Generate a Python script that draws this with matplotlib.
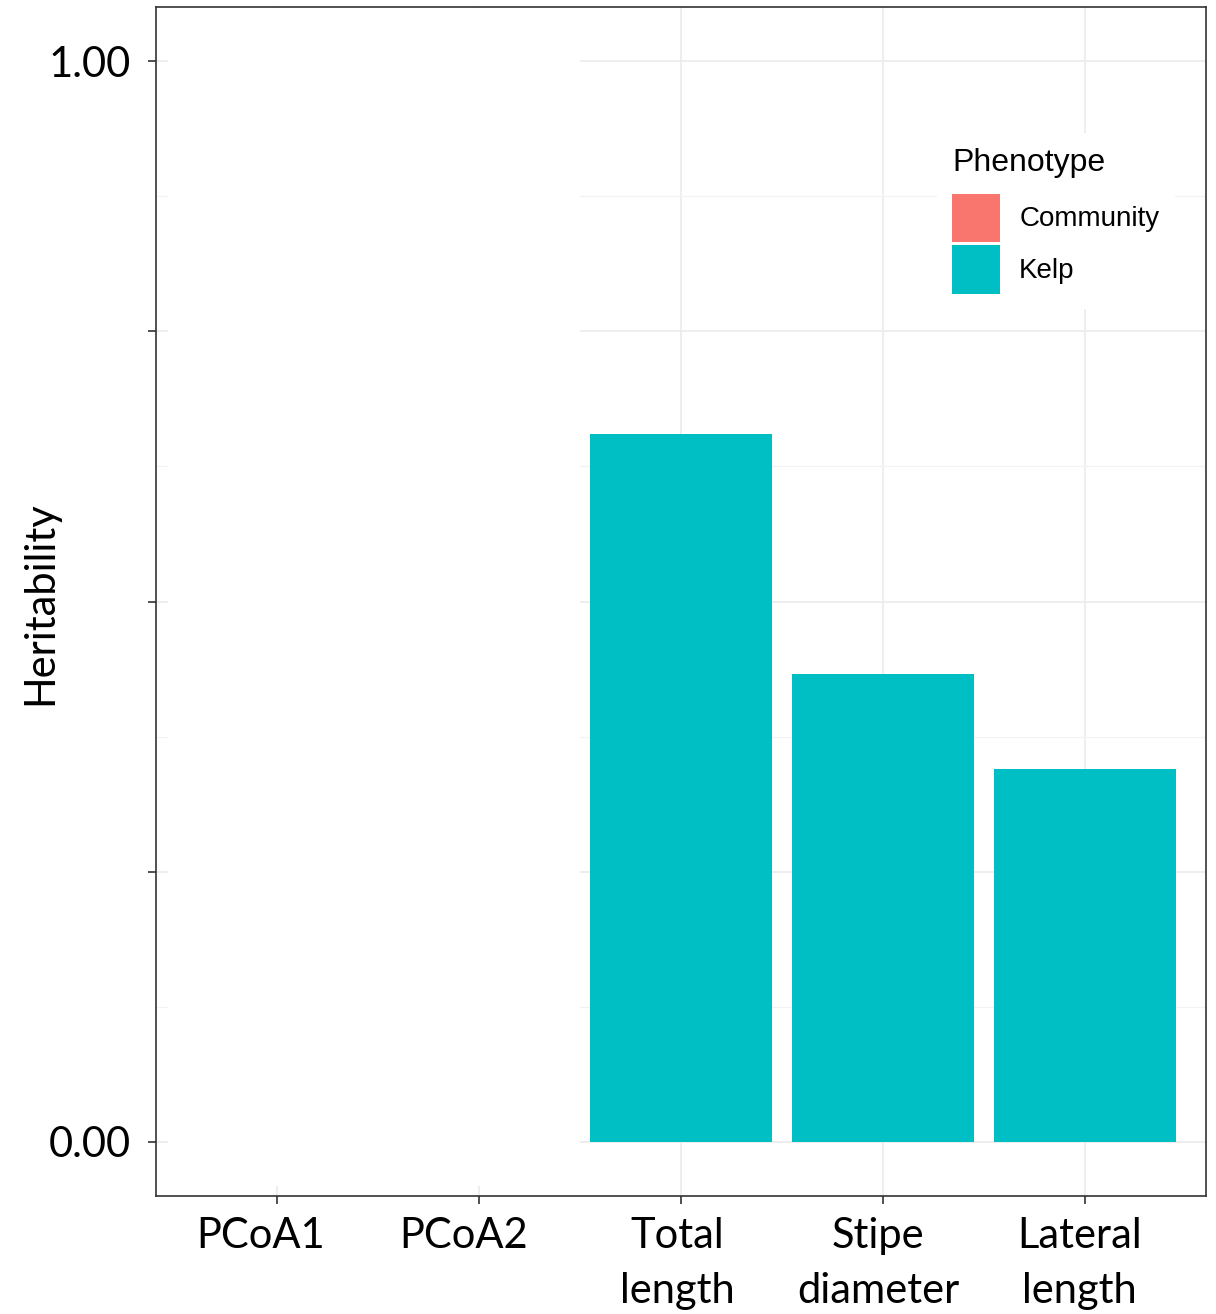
import matplotlib
matplotlib.use("Agg")
import matplotlib.pyplot as plt
from matplotlib.patches import Patch, Rectangle
from matplotlib.transforms import ScaledTranslation

# data
categories = ["PCoA1", "PCoA2", "Total\nlength", "Stipe\ndiameter", "Lateral\nlength"]
kelp_values = [0.0, 0.0, 0.655, 0.433, 0.345]
legend_labels = ["Community", "Kelp"]
legend_colors = ["#F8766D", "#00BFC4"]
ytick_values = [0.0, 0.25, 0.5, 0.75, 1.0]
ytick_labels = ["0.00", "", "", "", "1.00"]

W, H = 1216, 1314
fig = plt.figure(figsize=(W / 100, H / 100), dpi=100)
ax = fig.add_axes([156 / W, (H - 1196) / H, 1050 / W, 1189 / H])

x = list(range(len(categories)))
ax.bar(x[2:], kelp_values[2:], width=0.9, color=legend_colors[1], zorder=2)

ax.set_xlim(-0.6, 4.6)
ax.set_ylim(-0.05, 1.05)
ax.set_xticks(x)
ax.set_xticklabels(categories, fontfamily="Lato", fontsize=30, linespacing=1.55)
ax.set_yticks(ytick_values)
ax.set_yticklabels(ytick_labels, fontfamily="Lato", fontsize=30)
ax.set_yticks([0.125, 0.375, 0.625, 0.875], minor=True)
ax.tick_params(axis="both", which="major", length=6, width=1.2, color="#333333")
ax.tick_params(axis="x", which="major", pad=9)
ax.tick_params(axis="y", which="major", pad=12)
ax.tick_params(axis="y", which="minor", length=0)

# the PCoA labels sit a little left of their ticks in the original
for lab, dx in zip(ax.get_xticklabels(), [-17, -16, -4, -5, -5]):
    lab.set_transform(lab.get_transform() + ScaledTranslation(dx / 100, 0, fig.dpi_scale_trans))

ax.grid(True, which="major", color="#EBEBEB", linewidth=1.2, zorder=0)
ax.grid(True, which="minor", axis="y", color="#F2F2F2", linewidth=0.9, zorder=0)
ax.set_axisbelow(True)
for s in ax.spines.values():
    s.set_color("#333333")
    s.set_linewidth(1.2)

ax.set_ylabel("Heritability", fontfamily="Lato", fontsize=30)
ax.yaxis.label.set_va("center")
ax.yaxis.set_label_coords((40 - 156) / 1050, (1196 - 603) / 1189)

# white block over the left part of the panel
ax.add_patch(Rectangle((-0.54, -0.041), 2.04, 1.09, facecolor="white",
                       edgecolor="none", zorder=1.5))

handles = [Patch(facecolor=c, edgecolor="none") for c in legend_colors]
leg = ax.legend(handles, legend_labels, title="Phenotype", loc="upper left",
                bbox_to_anchor=(0.744, 0.894), prop={"family": "Liberation Sans", "size": 20},
                title_fontproperties={"family": "Liberation Sans", "size": 23},
                frameon=True, fancybox=False, handlelength=1.7, handleheight=2.3,
                handletextpad=0.7, labelspacing=0.12, borderpad=0.55,
                borderaxespad=0)
leg._legend_box.align = "left"
leg._legend_box.sep = 11  # gap between title and keys
leg.get_frame().set_facecolor("white")
leg.get_frame().set_edgecolor("none")
leg.get_frame().set_alpha(1)

fig.savefig("out.png", dpi=100)
